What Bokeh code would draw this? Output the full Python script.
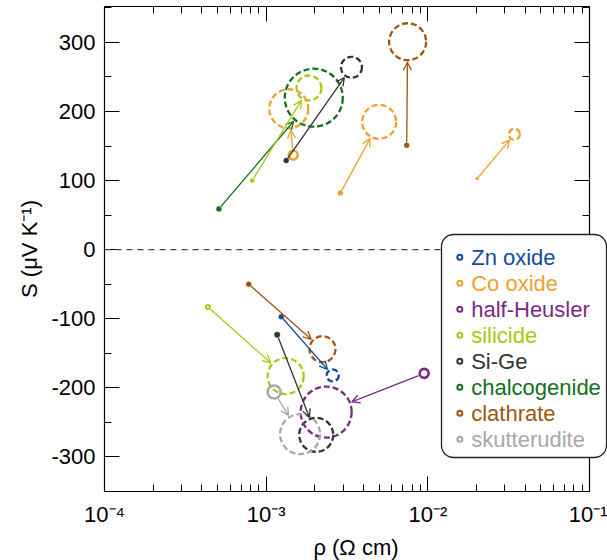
import math
from bokeh.plotting import figure
from bokeh.models import (LogAxis, LinearAxis, FixedTicker, Span, Arrow, OpenHead,
                          BoxAnnotation, Label, Range1d, CustomJSTickFormatter)
from bokeh.embed import file_html
from bokeh.resources import INLINE

# ---------------- data ----------------
categories = ["Zn oxide", "Co oxide", "half-Heusler", "silicide",
              "Si-Ge", "chalcogenide", "clathrate", "skutterudite"]
cat_colors = ["#124c9a", "#eba22e", "#7a2a82", "#a9c814",
              "#333333", "#14701b", "#a0560f", "#a8a8a8"]

material = ["clathrate", "Si-Ge", "chalcogenide", "silicide", "Co oxide", "Co oxide",
            "Co oxide", "clathrate", "silicide", "Zn oxide", "Si-Ge", "half-Heusler",
            "skutterudite"]
rho_start = [7.4e-3, 1.33e-3, 5.1e-4, 8.2e-4, 1.47e-3, 2.88e-3, 2.02e-2,
             7.8e-4, 4.36e-4, 1.24e-3, 1.17e-3, 9.5e-3, 1.12e-3]
S_start = [151, 129, 59, 100, 137, 82, 103,
           -50, -83, -97, -123, -179, -206]
rho_end = [7.5e-3, 3.37e-3, 1.97e-3, 1.84e-3, 1.38e-3, 5.0e-3, 3.43e-2,
           2.23e-3, 1.32e-3, 2.58e-3, 2.04e-3, 2.35e-3, 1.62e-3]
S_end = [301, 264, 220, 234, 204, 185, 167,
         -144, -183, -182, -268, -235, -267]
start_open = [False, False, False, False, True, False, False,
              False, True, False, False, True, True]
start_size = [5, 5, 5, 4, 9, 5, 3, 5, 4, 5, 5.5, 9, 13]
end_size = [37, 21, 58, 25, 39, 34, 11, 26, 36, 12, 34, 51, 40]

x_ticks = [1e-4, 1e-3, 1e-2, 1e-1]
x_tick_labels = ["10\u207b\u2074", "10\u207b\u00b3", "10\u207b\u00b2", "10\u207b\u00b9"]
y_ticks = [-300, -200, -100, 0, 100, 200, 300]
y_tick_labels = ["-300", "-200", "-100", "0", "100", "200", "300"]

# ---------------- layout ----------------
AXW = 485          # pixels spanned by the three decades of the axis
FW, FH = 503, 485  # frame (extends right so the legend box can overhang)
XL0, XL1 = -4, -1
Y0, Y1 = -350, 352
ppd = AXW / (XL1 - XL0)
ppu = FH / (Y1 - Y0)
FONT = "Liberation Sans"
FS = "22px"


def fx(px):
    return 10 ** (XL0 + px / ppd)


def fy(py):
    return Y1 - py / ppu


color_of = dict(zip(categories, cat_colors))

p = figure(x_axis_type="log", x_range=Range1d(10 ** XL0, fx(FW)),
           y_range=Range1d(Y0, Y1), frame_width=FW, frame_height=FH,
           min_border_left=104, min_border_right=0, min_border_top=6,
           min_border_bottom=60, output_backend="svg", toolbar_location=None,
           background_fill_color="white", border_fill_color="white")
p.grid.visible = False
p.outline_line_color = None

x_minor = [m * 10 ** k for k in range(XL0, XL1) for m in range(2, 10)]
y_minor = [v + 50 for v in range(-400, 400, 100)]
xt = FixedTicker(ticks=x_ticks, minor_ticks=x_minor)
yt = FixedTicker(ticks=y_ticks, minor_ticks=y_minor)


def style(ax, labels=True, outward=False):
    ax.major_tick_in = 0 if outward else 15
    ax.major_tick_out = 15 if outward else 0
    ax.minor_tick_in = 0 if outward else 7
    ax.minor_tick_out = 7 if outward else 0
    ax.axis_line_color = "black"
    ax.axis_line_width = 1.2
    ax.major_tick_line_color = "black"
    ax.minor_tick_line_color = "black"
    if labels:
        ax.major_label_text_font = FONT
        ax.major_label_text_font_size = FS
        ax.major_label_text_color = "black"
        ax.axis_label_text_font = FONT
        ax.axis_label_text_font_size = FS
        ax.axis_label_text_font_style = "normal"
        ax.axis_label_text_color = "black"
    else:
        ax.formatter = CustomJSTickFormatter(code="return ' '")
        ax.major_label_text_font_size = "1px"
        ax.major_label_text_alpha = 0
        ax.major_label_standoff = 0


LOOKUP = """
let best = 0, bd = Infinity;
for (let i = 0; i < tvals.length; i++) {
  const d = Math.abs(%s - %s);
  if (d < bd) { bd = d; best = i; }
}
return tlabels[best];
"""

xa = p.xaxis[0]
xa.ticker = xt
xa.bounds = (10 ** XL0, 10 ** XL1)
xa.formatter = CustomJSTickFormatter(
    args=dict(tvals=x_ticks, tlabels=x_tick_labels),
    code=LOOKUP % ("Math.log10(tvals[i])", "Math.log10(tick)"))
xa.axis_label = "\u03c1 (\u03a9 cm)"
xa.major_label_standoff = 10
xa.axis_label_standoff = 5
style(xa)

ya = p.yaxis[0]
ya.ticker = yt
ya.formatter = CustomJSTickFormatter(
    args=dict(tvals=y_ticks, tlabels=y_tick_labels),
    code=LOOKUP % ("tvals[i]", "tick"))
ya.axis_label = "S (\u03bcV K\u207b\u00b9)"
ya.major_label_standoff = 9
ya.axis_label_standoff = 6
style(ya)

top = LogAxis(ticker=xt, bounds=(10 ** XL0, 10 ** XL1))
style(top, labels=False)
p.add_layout(top, "above")

right = LinearAxis(ticker=yt, fixed_location=10 ** XL1)
style(right, labels=False, outward=True)
p.add_layout(right, "left")

p.add_layout(Span(location=0, dimension="width", line_color="#444444",
                  line_width=1.3, line_dash="6 5"))

# arrows and markers
for i in range(len(material)):
    c = color_of[material[i]]
    lx0, lx1 = math.log10(rho_start[i]), math.log10(rho_end[i])
    dx = (lx1 - lx0) * ppd
    dy = (S_end[i] - S_start[i]) * ppu
    L = math.hypot(dx, dy)
    ux, uy = dx / L, dy / L
    t0 = start_size[i] / 2 + (1.5 if start_open[i] else 0.5)
    t1 = end_size[i] / 2 + 2
    xs = 10 ** (lx0 + ux * t0 / ppd)
    ys = S_start[i] + uy * t0 / ppu
    xe = 10 ** (lx1 - ux * t1 / ppd)
    ye = S_end[i] - uy * t1 / ppu
    p.add_layout(Arrow(x_start=xs, y_start=ys, x_end=xe, y_end=ye,
                       line_color=c, line_width=1.3,
                       end=OpenHead(size=8, line_color=c, line_width=1.3)))
    # end circle
    p.scatter([rho_end[i]], [S_end[i]], size=end_size[i], marker="circle",
              fill_color=None, line_color=c, line_width=2.3, line_dash="6 3")
    # start marker
    if start_open[i]:
        p.scatter([rho_start[i]], [S_start[i]], size=start_size[i], marker="circle",
                  fill_color=None, line_color=c,
                  line_width=2.0 if start_size[i] < 6 else 2.6)
    else:
        p.scatter([rho_start[i]], [S_start[i]], size=start_size[i], marker="circle",
                  fill_color=c, line_color=c, line_width=0.5)

# legend (manual, rounded box with coloured text)
p.add_layout(BoxAnnotation(left=fx(337), right=fx(502), top=fy(228), bottom=fy(451),
                           fill_color="white", fill_alpha=1.0, line_color="#222222",
                           line_alpha=1.0, line_width=1.3, border_radius=12))
for k, (name, c) in enumerate(zip(categories, cat_colors)):
    yy = fy(250.7 + 26 * k)
    p.scatter([fx(355.3)], [yy], size=5, marker="circle", fill_color=None,
              line_color=c, line_width=2, level="overlay")
    p.add_layout(Label(x=fx(366.7), y=yy, text=name, text_color=c,
                       text_font=FONT, text_font_size=FS,
                       text_baseline="middle", text_align="left"))

open("out.html", "w").write(file_html(p, INLINE))
